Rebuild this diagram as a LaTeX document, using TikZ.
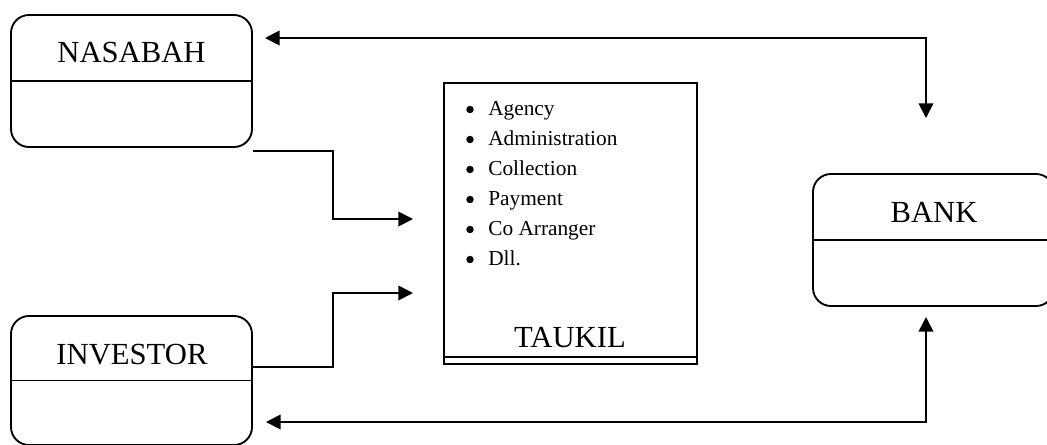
\documentclass[tikz,border=0pt]{standalone}
\usepackage{fontspec}
\setmainfont{Liberation Serif}
\usepackage{tikz}
\usetikzlibrary{arrows.meta}
\usetikzlibrary{positioning}

\tikzset{
  entity/.style={draw, line width=1.4pt, rounded corners=13.5pt,
    minimum width=180.75pt, minimum height=99pt, inner sep=0pt},
  title/.style={font=\fontsize{23}{27}\selectfont, inner sep=0pt, anchor=base},
  item/.style={font=\fontsize{16}{19}\selectfont, inner sep=0pt, anchor=base west},
  bul/.style={circle, fill, inner sep=0pt, minimum size=5.6pt},
  flow/.style={line width=1.4pt}
}

\begin{document}
\begin{tikzpicture}[x=0.75pt, y=-0.75pt, line join=miter, >={Triangle[length=11pt,width=11pt]}]
  \clip (0,0) rectangle (1047,444);
  %--- NASABAH
    \node[entity] (nasabah) at (131.5,81) {};
    \draw[line width=1.4pt] (nasabah.west) -- (nasabah.east);
    \node[title] (nasabahlbl) at (131.5,62) {NASABAH};
  %--- INVESTOR
    \node[entity, minimum height=96.75pt] (investor) at (131.5,380.5) {};
    \draw[line width=1.4pt] (investor.west) -- (investor.east);
    \node[title] (investorlbl) at (132,364) {INVESTOR};
  %--- BANK
    \node[entity] (bank) at (933.5,240) {};
    \draw[line width=1.4pt] (bank.west) -- (bank.east);
    \node[title] (banklbl) at (934,222) {BANK};
  %--- TAUKIL
    \node[draw, line width=1.4pt, minimum width=189.75pt, minimum height=210.75pt,
      inner sep=0pt] (taukil) at (570.5,223.5) {};
    \draw[line width=1.4pt] ([yshift=6pt]taukil.south west) -- ([yshift=6pt]taukil.south east);
    \node[title] (taukillbl) at (570,347) {TAUKIL};
    \foreach \txt [count=\i] in {Agency, Administration, Collection, Payment, Co Arranger, Dll.} {
      \node[bul] (bul\i) at (470,79.5+30*\i) {};
      \node[item] (item\i) at (488,85+30*\i) {\txt};
    }
  %--- connectors
    \coordinate (nasT) at (265,38);
    \coordinate (bankT) at (926,118);
    \coordinate (invB) at (266,422);
    \coordinate (bankB) at (926,317);
    \coordinate (nasOut) at (253,151);
    \coordinate (invOut) at (253,367);
    \coordinate (taukilIn1) at (413,219);
    \coordinate (taukilIn2) at (413,293);
    \draw[flow, <->] (nasT) -| (bankT);
    \draw[flow, <->] (invB) -| (bankB);
    \draw[flow, ->] (nasOut) -- (333,151) |- (taukilIn1);
    \draw[flow, ->] (invOut) -- (333,367) |- (taukilIn2);
\end{tikzpicture}
\end{document}
